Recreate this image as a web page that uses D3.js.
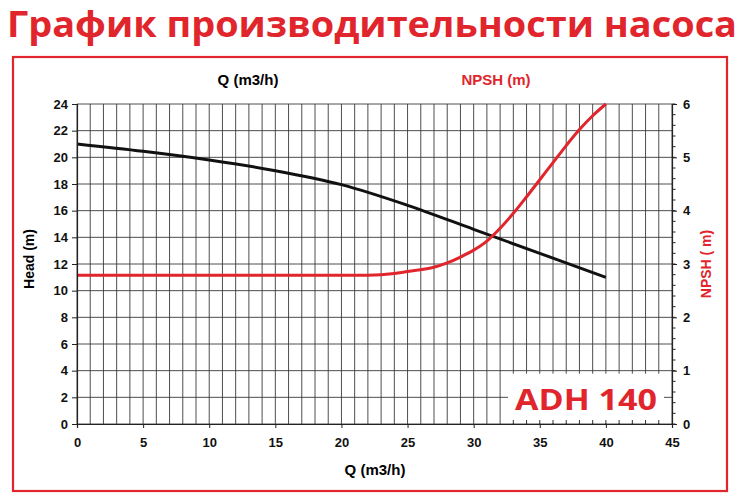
<!DOCTYPE html>
<html><head><meta charset="utf-8">
<script src="https://cdn.jsdelivr.net/npm/d3@7/dist/d3.min.js"></script>
<style>body{margin:0;background:#fff}svg{display:block}</style>
</head><body><svg id="c" width="745" height="500"></svg>
<script>
const title = "График производительности насоса";
const modelLabel = "ADH 140";
const flowTicks = [0,5,10,15,20,25,30,35,40,45];
const headTicks = [0,2,4,6,8,10,12,14,16,18,20,22,24];
const npshTicks = [0,1,2,3,4,5,6];
const headQ = [0,5,10,15,20,25,30,35,40];
const headValues = [21,20.45,19.8,19.0,17.95,16.4,14.6,12.8,11.0];
const npshQ = [0,22,24,25,27,28,29,30,31,32,33,34,35,36,37,38,39,40];
const npshValues = [2.79,2.79,2.82,2.86,2.94,3.02,3.13,3.26,3.43,3.67,3.95,4.26,4.58,4.9,5.22,5.52,5.78,6.0];

const svg = d3.select("#c");
const red = "#e1252d";
const L=77,R=672,T=104,B=424;
const x = d3.scaleLinear().domain([0,45]).range([L,R]);
const y = d3.scaleLinear().domain([0,24]).range([B,T]);
const y2 = d3.scaleLinear().domain([0,6]).range([B,T]);
const font = "Liberation Sans, Arial, sans-serif";

// title
svg.append("text").attr("x",7).attr("y",37).attr("fill",red)
  .attr("font-family","Open Sans, Noto Sans, sans-serif").attr("font-weight","bold")
  .attr("font-size",36).attr("textLength",730).attr("lengthAdjust","spacingAndGlyphs")
  .text(title);
// frame
svg.append("rect").attr("x",13).attr("y",57).attr("width",714).attr("height",434)
  .attr("fill","none").attr("stroke",red).attr("stroke-width",2.2);

// grid
const g = svg.append("g");
g.selectAll(".vg").data(d3.range(0,46)).join("line")
  .attr("x1",d=>x(d)).attr("x2",d=>x(d)).attr("y1",T).attr("y2",B)
  .attr("stroke","#3a3a3a").attr("stroke-width",0.9);
g.selectAll(".hg").data(headTicks).join("line")
  .attr("x1",L).attr("x2",R).attr("y1",d=>y(d)).attr("y2",d=>y(d))
  .attr("stroke","#3a3a3a").attr("stroke-width",0.9);

// curves
const headLine = d3.line().curve(d3.curveCatmullRom.alpha(0.5));
const npshLine = d3.line().curve(d3.curveMonotoneX);
svg.append("path").attr("d",headLine(headQ.map((q,i)=>[x(q),y(headValues[i])])))
  .attr("fill","none").attr("stroke","#111").attr("stroke-width",3);
svg.append("path").attr("d",npshLine(npshQ.map((q,i)=>[x(q),y2(npshValues[i])])))
  .attr("fill","none").attr("stroke",red).attr("stroke-width",3);

// model box
svg.append("rect").attr("x",x(32.6)).attr("y",y(4)+3).attr("width",664-x(32.6)).attr("height",B-1-(y(4)+3)).attr("fill","#fff");
// inward minor ticks on bottom inside box
svg.append("g").selectAll("line").data(d3.range(33,45)).join("line")
  .attr("x1",d=>x(d)).attr("x2",d=>x(d)).attr("y1",B).attr("y2",B-4).attr("stroke","#333");
svg.append("text").attr("x",515).attr("y",410)
  .attr("fill",red).attr("font-family","Open Sans, Noto Sans, sans-serif").attr("font-weight","bold")
  .attr("font-size",28).attr("textLength",142).attr("lengthAdjust","spacingAndGlyphs").text(modelLabel);

// axes
const axL = d3.axisLeft(y).tickValues(headTicks).tickSize(5).tickPadding(4);
const axB = d3.axisBottom(x).tickValues(flowTicks).tickSize(4).tickPadding(10);
const axR = d3.axisRight(y2).tickValues(npshTicks).tickFormat(d3.format("d")).tickSize(5).tickPadding(6);
function style(sel){sel.select(".domain").attr("stroke","#222").attr("stroke-width",1.2);
  sel.selectAll(".tick line").attr("stroke","#222");
  sel.selectAll("text").attr("font-family",font).attr("font-weight","bold").attr("font-size",13).attr("fill","#111");}
svg.append("g").attr("transform",`translate(${L},0)`).call(axL).call(style);
svg.append("g").attr("transform",`translate(0,${B})`).call(axB).call(style);
svg.append("g").attr("transform",`translate(${R},0)`).call(axR).call(style);
// right minor ticks
svg.append("g").selectAll("line").data(d3.range(0,6.01,0.2)).join("line")
  .attr("x1",R).attr("x2",R+3.5).attr("y1",d=>y2(d)).attr("y2",d=>y2(d)).attr("stroke","#222");

// labels
svg.append("text").attr("x",248).attr("y",85).attr("text-anchor","middle").attr("font-family",font)
  .attr("font-weight","bold").attr("font-size",15).text("Q (m3/h)");
svg.append("text").attr("x",496).attr("y",85).attr("text-anchor","middle").attr("font-family",font)
  .attr("font-weight","bold").attr("font-size",15).attr("fill",red).text("NPSH (m)");
svg.append("text").attr("x",375).attr("y",475).attr("text-anchor","middle").attr("font-family",font)
  .attr("font-weight","bold").attr("font-size",15).text("Q (m3/h)");
svg.append("text").attr("transform","translate(34,259) rotate(-90)").attr("text-anchor","middle")
  .attr("font-family",font).attr("font-weight","bold").attr("font-size",14).text("Head (m)");
svg.append("text").attr("transform","translate(711,264) rotate(-90)").attr("text-anchor","middle")
  .attr("font-family",font).attr("font-weight","bold").attr("font-size",14).attr("fill",red).text("NPSH ( m)");
</script></body></html>
